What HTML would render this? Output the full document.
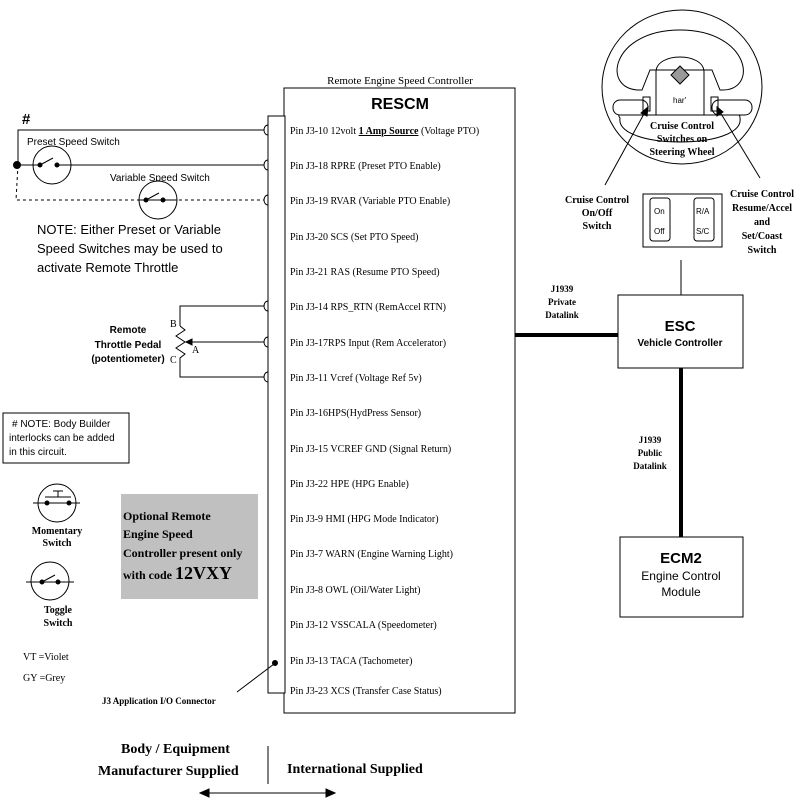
<!DOCTYPE html><html><head><style>body{margin:0;background:#fff}</style></head><body>
<svg width="800" height="805" viewBox="0 0 800 805" xmlns="http://www.w3.org/2000/svg" stroke="#000" fill="none" stroke-width="1" font-family="Liberation Serif, serif">
<rect x="284" y="88" width="231" height="625"/>
<rect x="268" y="116" width="17" height="577" fill="#fff"/>
<text x="400" y="84" font-size="11" text-anchor="middle" fill="#000" stroke="none">Remote Engine Speed Controller</text>
<text x="400" y="109" font-size="16" font-weight="bold" text-anchor="middle" fill="#000" stroke="none" font-family="Liberation Sans, sans-serif">RESCM</text>
<g fill="#000" stroke="none" font-size="10">
<text x="290" y="134">Pin J3-10 12volt <tspan font-weight="bold" text-decoration="underline">1 Amp Source</tspan> (Voltage PTO)</text>
<text x="290" y="169">Pin J3-18 RPRE (Preset PTO Enable)</text>
<text x="290" y="204">Pin J3-19 RVAR (Variable PTO Enable)</text>
<text x="290" y="240">Pin J3-20 SCS (Set PTO Speed)</text>
<text x="290" y="275">Pin J3-21 RAS (Resume PTO Speed)</text>
<text x="290" y="310">Pin J3-14 RPS_RTN (RemAccel RTN)</text>
<text x="290" y="346">Pin J3-17RPS Input (Rem Accelerator)</text>
<text x="290" y="381">Pin J3-11 Vcref (Voltage Ref 5v)</text>
<text x="290" y="416">Pin J3-16HPS(HydPress Sensor)</text>
<text x="290" y="452">Pin J3-15 VCREF GND (Signal Return)</text>
<text x="290" y="487">Pin J3-22 HPE (HPG Enable)</text>
<text x="290" y="522">Pin J3-9 HMI (HPG Mode Indicator)</text>
<text x="290" y="557">Pin J3-7 WARN (Engine Warning Light)</text>
<text x="290" y="593">Pin J3-8 OWL (Oil/Water Light)</text>
<text x="290" y="628">Pin J3-12 VSSCALA (Speedometer)</text>
<text x="290" y="664">Pin J3-13 TACA (Tachometer)</text>
<text x="290" y="694">Pin J3-23 XCS (Transfer Case Status)</text>
</g>
<g>
<path d="M268 125 a4 5 0 0 0 0 10"/><path d="M268 160 a4 5 0 0 0 0 10"/><path d="M268 195 a4 5 0 0 0 0 10"/>
<path d="M268 301 a4 5 0 0 0 0 10"/><path d="M268 337 a4 5 0 0 0 0 10"/><path d="M268 372 a4 5 0 0 0 0 10"/>
</g>
<polyline points="18,165 18,130 264,130"/>
<line x1="18" y1="165" x2="264" y2="165"/>
<path d="M18 165 L16 200 L264 200" stroke-dasharray="3,3"/>
<circle cx="17" cy="165" r="3.5" fill="#000"/>
<text x="22" y="124" font-size="15" font-weight="bold" fill="#000" stroke="none" font-family="Liberation Sans, sans-serif">#</text>
<text x="27" y="145" font-size="10" fill="#000" stroke="none" font-family="Liberation Sans, sans-serif">Preset Speed Switch</text>
<circle cx="52" cy="165" r="19" fill="#fff"/><line x1="33" y1="165" x2="40" y2="165"/><line x1="58" y1="165" x2="71" y2="165"/>
<circle cx="40" cy="165" r="2" fill="#000"/><circle cx="57" cy="165" r="2" fill="#000"/><line x1="40" y1="165" x2="53" y2="158"/>
<text x="110" y="181" font-size="10" fill="#000" stroke="none" font-family="Liberation Sans, sans-serif">Variable Speed Switch</text>
<circle cx="158" cy="200" r="19" fill="#fff"/><line x1="139" y1="200" x2="177" y2="200"/>
<circle cx="146" cy="200" r="2" fill="#000"/><circle cx="163" cy="200" r="2" fill="#000"/><line x1="146" y1="200" x2="159" y2="193"/>
<g fill="#000" stroke="none" font-size="13" font-family="Liberation Sans, sans-serif"><text x="37" y="234">NOTE: Either  Preset or Variable</text><text x="37" y="253">Speed Switches may be used to</text><text x="37" y="272">activate Remote Throttle</text></g>
<polyline points="264,306 180,306 180,326"/>
<polyline points="180,326 185,330 176,336 185,342 176,348 185,354 180,358 180,377 264,377"/>
<line x1="264" y1="342" x2="188" y2="342"/><path d="M186 342 l6 -3 v6z" fill="#000"/>
<g fill="#000" stroke="none" font-size="10"><text x="170" y="327">B</text><text x="192" y="353">A</text><text x="170" y="363">C</text></g>
<g fill="#000" stroke="none" font-size="10" font-weight="bold" font-family="Liberation Sans, sans-serif" text-anchor="middle"><text x="128" y="333">Remote</text><text x="128" y="348">Throttle Pedal</text><text x="128" y="362">(potentiometer)</text></g>
<rect x="3" y="413" width="126" height="50"/>
<g fill="#000" stroke="none" font-size="10" font-family="Liberation Sans, sans-serif"><text x="12" y="427"># NOTE: Body Builder</text><text x="9" y="441">interlocks can be added</text><text x="9" y="455">in this circuit.</text></g>
<circle cx="57" cy="503" r="19"/><line x1="33" y1="503" x2="80" y2="503"/><circle cx="47" cy="503" r="2" fill="#000"/><circle cx="69" cy="503" r="2" fill="#000"/><line x1="45" y1="497" x2="71" y2="497"/><line x1="58" y1="497" x2="58" y2="491"/><line x1="53" y1="491" x2="63" y2="491"/>
<circle cx="50" cy="581" r="19"/><line x1="26" y1="582" x2="74" y2="582"/><circle cx="42" cy="582" r="2" fill="#000"/><circle cx="58" cy="582" r="2" fill="#000"/><line x1="42" y1="582" x2="55" y2="575"/>
<g fill="#000" stroke="none" font-size="10" text-anchor="middle" font-weight="bold"><text x="57" y="534">Momentary</text><text x="57" y="546">Switch</text><text x="58" y="613">Toggle</text><text x="58" y="626">Switch</text></g>
<g fill="#000" stroke="none" font-size="10"><text x="23" y="660">VT =Violet</text><text x="23" y="681">GY =Grey</text></g>
<rect x="121" y="494" width="137" height="105" fill="#c0c0c0" stroke="none"/>
<g fill="#000" stroke="none" font-size="12" font-weight="bold"><text x="123" y="520">Optional Remote</text><text x="123" y="538">Engine Speed</text><text x="123" y="557">Controller present only</text><text x="123" y="579">with code <tspan font-size="18">12VXY</tspan></text></g>
<circle cx="275" cy="663" r="2.5" fill="#000"/><line x1="274" y1="664" x2="237" y2="692"/>
<text x="102" y="704" font-size="9" font-weight="bold" fill="#000" stroke="none">J3 Application I/O Connector</text>
<g fill="#000" stroke="none" font-size="14" font-weight="bold"><text x="121" y="753">Body / Equipment</text><text x="98" y="775">Manufacturer Supplied</text><text x="287" y="773">International Supplied</text></g>
<line x1="268" y1="746" x2="268" y2="784"/>
<line x1="205" y1="793" x2="330" y2="793"/><path d="M200 793 l9 -4 v8z" fill="#000"/><path d="M335 793 l-9 -4 v8z" fill="#000"/>
<line x1="515" y1="335" x2="618" y2="335" stroke-width="4"/>
<g fill="#000" stroke="none" font-size="9" font-weight="bold" text-anchor="middle"><text x="562" y="292">J1939</text><text x="562" y="305">Private</text><text x="562" y="318">Datalink</text>
<text x="650" y="443">J1939</text><text x="650" y="456">Public</text><text x="650" y="469">Datalink</text></g>
<rect x="618" y="295" width="125" height="73"/>
<text x="680" y="331" font-size="15" font-weight="bold" text-anchor="middle" fill="#000" stroke="none" font-family="Liberation Sans, sans-serif">ESC</text>
<text x="680" y="346" font-size="10" font-weight="bold" text-anchor="middle" fill="#000" stroke="none" font-family="Liberation Sans, sans-serif">Vehicle Controller</text>
<line x1="681" y1="368" x2="681" y2="537" stroke-width="4"/>
<rect x="620" y="537" width="123" height="80"/>
<text x="681" y="563" font-size="15" font-weight="bold" text-anchor="middle" fill="#000" stroke="none" font-family="Liberation Sans, sans-serif">ECM2</text>
<g font-size="12" text-anchor="middle" fill="#000" stroke="none" font-family="Liberation Sans, sans-serif"><text x="681" y="580">Engine Control</text><text x="681" y="596">Module</text></g>
<line x1="681" y1="260" x2="681" y2="295"/>
<rect x="643" y="194" width="79" height="53"/>
<rect x="650" y="198" width="20" height="43" rx="3"/><rect x="694" y="198" width="20" height="43" rx="3"/>
<g font-size="8" fill="#000" stroke="none" font-family="Liberation Sans, sans-serif"><text x="654" y="214">On</text><text x="654" y="234">Off</text><text x="696" y="214">R/A</text><text x="696" y="234">S/C</text></g>
<g fill="#000" stroke="none" font-size="10" font-weight="bold" text-anchor="middle"><text x="597" y="203">Cruise Control</text><text x="597" y="216">On/Off</text><text x="597" y="229">Switch</text>
<text x="762" y="197">Cruise Control</text><text x="762" y="211">Resume/Accel</text><text x="762" y="225">and</text><text x="762" y="239">Set/Coast</text><text x="762" y="253">Switch</text></g>
<ellipse cx="682" cy="87" rx="80" ry="77"/>
<path d="M642 90 C600 92 610 30 680 30 C750 30 760 92 720 90 L712 70 L650 70 Z"/>
<path d="M620 118 C615 112 625 112 640 115 L660 115 L700 115 L720 115 C735 112 740 112 740 118 C745 150 615 150 620 118Z"/>
<path d="M656 115 L656 72 C656 52 704 52 704 72 L704 115"/>
<rect x="613" y="100" width="35" height="15" rx="7" fill="#fff"/><rect x="712" y="100" width="40" height="15" rx="7" fill="#fff"/>
<rect x="643" y="97" width="7" height="14"/><rect x="711" y="97" width="7" height="14"/>
<path d="M680 66 l9 9 l-9 9 l-9 -9z" fill="#999"/>
<text x="673" y="103" font-size="8" fill="#000" stroke="none" font-family="Liberation Sans, sans-serif">har'</text>
<g fill="#000" stroke="none" font-size="10" font-weight="bold" text-anchor="middle"><text x="682" y="129">Cruise Control</text><text x="682" y="142">Switches on</text><text x="682" y="155">Steering Wheel</text></g>
<line x1="645" y1="112" x2="605" y2="185"/><path d="M648 107 l-1 9 l-6 -3z" fill="#000"/>
<line x1="720" y1="112" x2="760" y2="178"/><path d="M717 107 l0 9 l6 -4z" fill="#000"/>
</svg></body></html>
